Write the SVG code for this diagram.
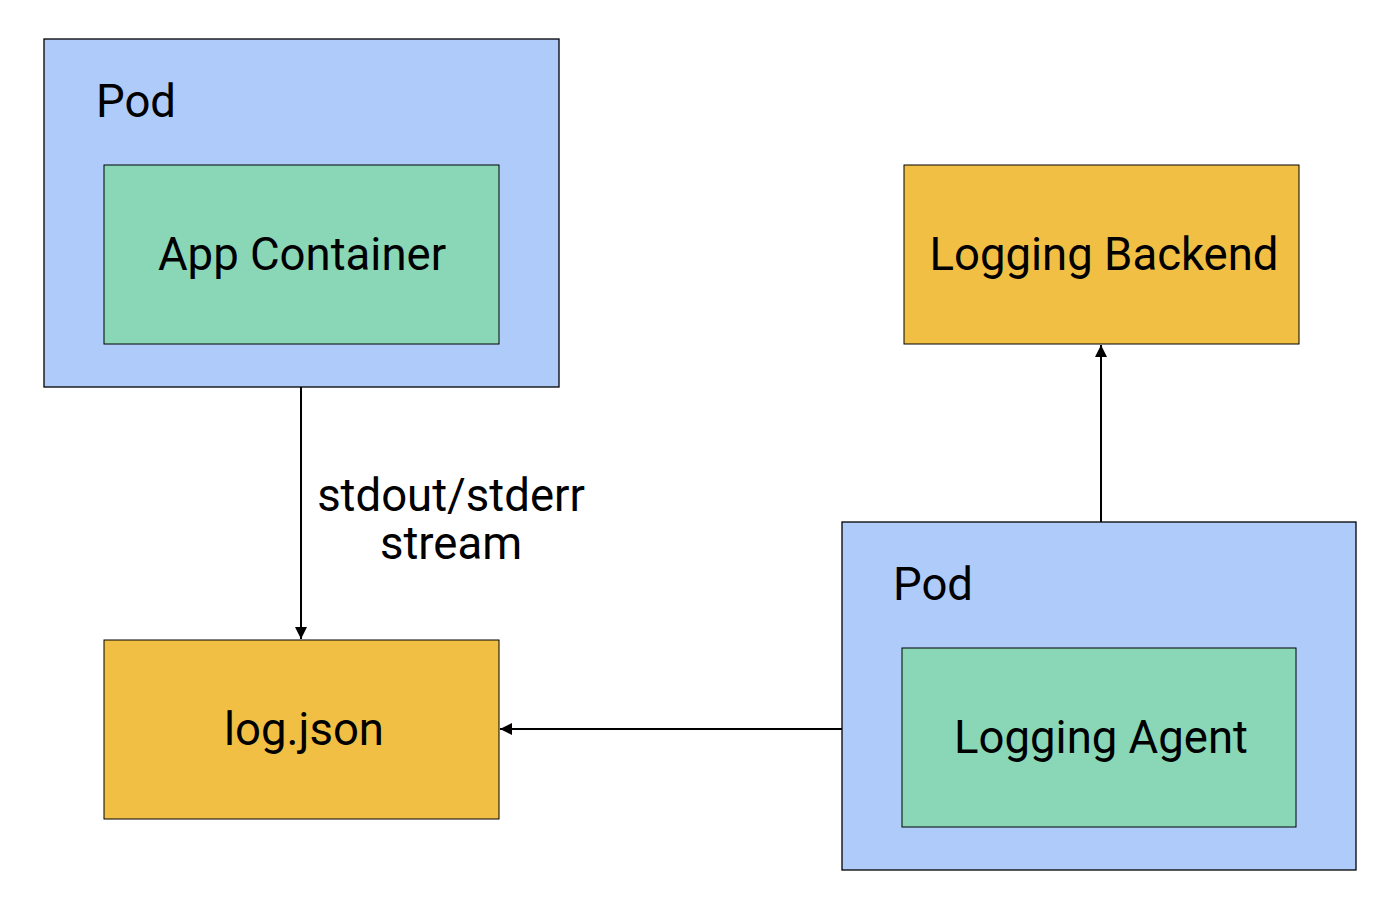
<svg xmlns="http://www.w3.org/2000/svg" width="1400" height="920" viewBox="0 0 1400 920">
<style>
.pod{fill:#aecbfa;stroke:#000;stroke-width:1.3}
.ctr{fill:#89d7b7;stroke:#000;stroke-width:1}
.store{fill:#f0bf44;stroke:#000;stroke-width:1}
text{font-family:Roboto,"Liberation Sans",sans-serif;fill:#000}
.t{font-size:45.5px}
.c{text-anchor:middle}
.e{fill:none;stroke:#000;stroke-width:2}
</style>
<defs>
<marker id="ah" viewBox="0 0 10 10" refX="10" refY="5" markerWidth="12" markerHeight="12" orient="auto" markerUnits="userSpaceOnUse">
<path d="M0,0 L10,5 L0,10 z" fill="#000"/>
</marker>
</defs>
<rect width="1400" height="920" fill="#fff"/>
<g id="pod1">
<rect class="pod" x="44" y="39" width="515" height="348"/>
<text class="t" x="96" y="117">Pod</text>
</g>
<g id="app">
<rect class="ctr" x="104" y="165" width="395" height="179"/>
<text class="t c" x="302" y="270">App Container</text>
</g>
<g id="backend">
<rect class="store" x="904" y="165" width="395" height="179"/>
<text class="t c" x="1104" y="270">Logging Backend</text>
</g>
<g id="logjson">
<rect class="store" x="104" y="640" width="395" height="179"/>
<text class="t c" x="304" y="745">log.json</text>
</g>
<g id="pod2">
<rect class="pod" x="842" y="522" width="514" height="348"/>
<text class="t" x="893" y="600">Pod</text>
</g>
<g id="agent">
<rect class="ctr" x="902" y="648" width="394" height="179"/>
<text class="t c" x="1101" y="753">Logging Agent</text>
</g>
<g id="connectors">
<line class="e" x1="301" y1="387" x2="301" y2="639" marker-end="url(#ah)"/>
<line class="e" x1="842" y1="729" x2="500" y2="729" marker-end="url(#ah)"/>
<line class="e" x1="1101" y1="522" x2="1101" y2="345" marker-end="url(#ah)"/>
<text class="t c" x="451" y="511">stdout/stderr</text>
<text class="t c" x="451" y="559">stream</text>
</g>
</svg>
